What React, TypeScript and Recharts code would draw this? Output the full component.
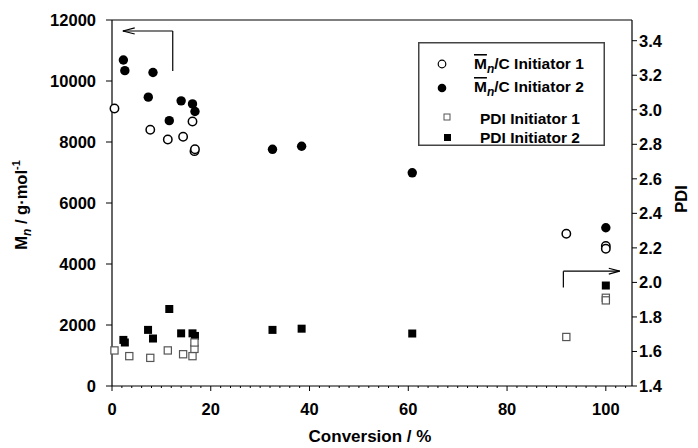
import React from 'react';
import { ScatterChart, Scatter, XAxis, YAxis, ReferenceLine, Legend } from 'recharts';

const FONT = '"Liberation Sans", Arial, Helvetica, sans-serif';

// Mn / C, initiator 1 (open circles)
const mn1Conversion = [0.5, 7.75, 11.3, 14.4, 16.3, 16.7, 16.8, 92, 100, 100];
const mn1Values = [9100, 8400, 8080, 8170, 8670, 7700, 7760, 4990, 4590, 4500];

// Mn / C, initiator 2 (filled circles)
const mn2Conversion = [2.3, 2.6, 8.3, 7.35, 14, 16.3, 16.8, 11.6, 32.5, 38.4, 60.8, 100];
const mn2Values = [10690, 10340, 10280, 9470, 9350, 9250, 9000, 8700, 7760, 7860, 6990, 5190];

// PDI, initiator 1 (open squares)
const pdi1Conversion = [0.5, 3.5, 7.75, 11.3, 14.4, 16.3, 16.7, 16.7, 92, 100, 100];
const pdi1Values = [1.606, 1.573, 1.563, 1.606, 1.584, 1.573, 1.615, 1.652, 1.684, 1.911, 1.896];

// PDI, initiator 2 (filled squares)
const pdi2Conversion = [2.3, 2.6, 7.3, 8.3, 11.6, 14, 16.3, 16.8, 32.5, 38.4, 60.8, 100];
const pdi2Values = [1.667, 1.652, 1.725, 1.675, 1.846, 1.705, 1.705, 1.69, 1.725, 1.732, 1.704, 1.982];

const xTicks = [0, 2, 4, 6, 8, 10, 12, 14, 16, 18, 20, 22, 24, 26, 28, 30, 32, 34, 36, 38, 40, 42, 44, 46, 48, 50,
  52, 54, 56, 58, 60, 62, 64, 66, 68, 70, 72, 74, 76, 78, 80, 82, 84, 86, 88, 90, 92, 94, 96, 98, 100, 102, 104];
const mnTicks = [0, 2000, 4000, 6000, 8000, 10000, 12000];
const pdiTicks = [1.4, 1.6, 1.8, 2.0, 2.2, 2.4, 2.6, 2.8, 3.0, 3.2, 3.4];

// arrow annotations, in data units
const mnArrow = [{ x: 12.3, y: 10330 }, { x: 12.3, y: 11640 }, { x: 2.2, y: 11640 }];
const mnArrowHead = [{ x: 4.6, y: 11740 }, { x: 2.2, y: 11640 }, { x: 4.6, y: 11540 }];
const pdiArrow = [{ x: 91.4, y: 1.971 }, { x: 91.4, y: 2.065 }, { x: 102.8, y: 2.065 }];
const pdiArrowHead = [{ x: 100.6, y: 2.082 }, { x: 102.8, y: 2.065 }, { x: 100.6, y: 2.048 }];

const toPoints = (xs: number[], ys: number[]) => xs.map((x, i) => ({ x, y: ys[i] }));

const OpenCircle = (p: any) => <circle cx={p.cx} cy={p.cy} r={4.2} fill="#fff" stroke="#000" strokeWidth={1.5} />;
const FilledCircle = (p: any) => <circle cx={p.cx} cy={p.cy} r={4.7} fill="#000" />;
const OpenSquare = (p: any) => (
  <rect x={p.cx - 3.6} y={p.cy - 3.6} width={7.2} height={7.2} fill="#fff" stroke="#555" strokeWidth={1.2} />
);
const FilledSquare = (p: any) => <rect x={p.cx - 4} y={p.cy - 4} width={8} height={8} fill="#000" />;

function XTick(props: any) {
  const { x, y, payload } = props;
  const major = payload.value % 20 === 0;
  return (
    <g>
      <line x1={x} x2={x} y1={y} y2={y + (major ? 5 : 2)} stroke="#000" strokeWidth={1} />
      {major && (
        <text x={x} y={y + 29} textAnchor="middle" fontFamily={FONT} fontWeight={700} fontSize={16.5} fill="#000">
          {payload.value}
        </text>
      )}
    </g>
  );
}

function MnLabel(props: any) {
  const { viewBox } = props;
  const cx = viewBox.x + 27;
  const cy = viewBox.y + viewBox.height / 2 + 2;
  return (
    <text transform={`rotate(-90 ${cx} ${cy})`} x={cx} y={cy} textAnchor="middle"
      fontFamily={FONT} fontWeight={700} fontSize={16.5} fill="#000">
      <tspan>M</tspan>
      <tspan fontStyle="italic" fontSize={12} dy={4}>n</tspan>
      <tspan dy={-4}> / g·mol</tspan>
      <tspan fontSize={11} dy={-7}>-1</tspan>
    </text>
  );
}

function PdiLabel(props: any) {
  const { viewBox } = props;
  const cx = viewBox.x + 55;
  const cy = viewBox.y + viewBox.height / 2 - 4;
  return (
    <text transform={`rotate(-90 ${cx} ${cy})`} x={cx} y={cy} textAnchor="middle"
      fontFamily={FONT} fontWeight={700} fontSize={16.5} fill="#000">
      PDI
    </text>
  );
}

function XLabel(props: any) {
  const { viewBox } = props;
  return (
    <text x={viewBox.x + viewBox.width / 2 - 2} y={viewBox.y + 56} textAnchor="middle"
      fontFamily={FONT} fontWeight={700} fontSize={17} fill="#000">
      Conversion / %
    </text>
  );
}

function LegendBox() {
  const t = { fontFamily: FONT, fontWeight: 700, fontSize: 15.5, fill: '#000' };
  return (
    <svg width={187} height={104} style={{ display: 'block' }}>
      <rect x={0.75} y={0.75} width={185.5} height={102.5} fill="#fff" stroke="#444" strokeWidth={1.5} />
      <circle cx={24} cy={22} r={3.8} fill="#fff" stroke="#000" strokeWidth={1.2} />
      <text x={56} y={27} {...t}>
        <tspan textDecoration="overline">M</tspan>
        <tspan fontStyle="italic" fontSize={12} dy={4}>n</tspan>
        <tspan dy={-4}>/C Initiator 1</tspan>
      </text>
      <circle cx={24} cy={46} r={4.3} fill="#000" />
      <text x={56} y={50} {...t}>
        <tspan textDecoration="overline">M</tspan>
        <tspan fontStyle="italic" fontSize={12} dy={4}>n</tspan>
        <tspan dy={-4}>/C Initiator 2</tspan>
      </text>
      <rect x={26} y={72} width={6} height={6} fill="#fff" stroke="#555" strokeWidth={1} />
      <text x={62} y={82} {...t}>PDI Initiator 1</text>
      <rect x={26} y={92} width={7} height={7} fill="#000" />
      <text x={62} y={101} {...t}>PDI Initiator 2</text>
    </svg>
  );
}

const axisTick = { fontFamily: FONT, fontWeight: 700, fontSize: 16.5, fill: '#000' };

export default function App() {
  return (
    <div style={{ position: 'absolute', left: 0, top: 0, width: 698, height: 448, background: '#fff' }}>
      <ScatterChart width={698} height={448} margin={{ top: 20, right: 0, bottom: 0, left: 0 }}>
        <XAxis type="number" dataKey="x" domain={[0, 105.3]} ticks={xTicks} interval={0}
          height={62} tickSize={0} tickMargin={0} tickLine={false} tick={<XTick />}
          axisLine={{ stroke: '#000', strokeWidth: 1.2 }} label={<XLabel />} />
        <YAxis yAxisId="mn" type="number" dataKey="y" domain={[0, 12000]} ticks={mnTicks} interval={0}
          width={112} tickSize={6} tickMargin={10} tick={axisTick}
          tickLine={{ stroke: '#000' }} axisLine={{ stroke: '#000', strokeWidth: 1.2 }} label={<MnLabel />} />
        <YAxis yAxisId="pdi" orientation="right" type="number" dataKey="y" domain={[1.4, 3.52]}
          ticks={pdiTicks} interval={0} allowDataOverflow width={66} tickSize={5} tickMargin={2}
          tick={axisTick} tickFormatter={(v: number) => v.toFixed(1)}
          tickLine={{ stroke: '#000' }} axisLine={{ stroke: '#000', strokeWidth: 1.2 }} label={<PdiLabel />} />
        <ReferenceLine yAxisId="mn" y={12000} stroke="#000" strokeWidth={1.2} />

        <Scatter name="PDI Initiator 2" yAxisId="pdi" data={toPoints(pdi2Conversion, pdi2Values)}
          shape={FilledSquare} isAnimationActive={false} />
        <Scatter name="PDI Initiator 1" yAxisId="pdi" data={toPoints(pdi1Conversion, pdi1Values)}
          shape={OpenSquare} isAnimationActive={false} />
        <Scatter name="Mn/C Initiator 1" yAxisId="mn" data={toPoints(mn1Conversion, mn1Values)}
          shape={OpenCircle} isAnimationActive={false} />
        <Scatter name="Mn/C Initiator 2" yAxisId="mn" data={toPoints(mn2Conversion, mn2Values)}
          shape={FilledCircle} isAnimationActive={false} />

        <ReferenceLine yAxisId="mn" segment={[mnArrow[0], mnArrow[1]]} stroke="#000" strokeWidth={1.2} />
        <ReferenceLine yAxisId="mn" segment={[mnArrow[1], mnArrow[2]]} stroke="#000" strokeWidth={1.2} />
        <ReferenceLine yAxisId="mn" segment={[mnArrowHead[0], mnArrowHead[1]]} stroke="#000" strokeWidth={1.2} />
        <ReferenceLine yAxisId="mn" segment={[mnArrowHead[1], mnArrowHead[2]]} stroke="#000" strokeWidth={1.2} />
        <ReferenceLine yAxisId="pdi" segment={[pdiArrow[0], pdiArrow[1]]} stroke="#000" strokeWidth={1.2} />
        <ReferenceLine yAxisId="pdi" segment={[pdiArrow[1], pdiArrow[2]]} stroke="#000" strokeWidth={1.2} />
        <ReferenceLine yAxisId="pdi" segment={[pdiArrowHead[0], pdiArrowHead[1]]} stroke="#000" strokeWidth={1.2} />
        <ReferenceLine yAxisId="pdi" segment={[pdiArrowHead[1], pdiArrowHead[2]]} stroke="#000" strokeWidth={1.2} />

        <Legend layout="vertical" align="center" verticalAlign="middle" content={<LegendBox />}
          wrapperStyle={{ left: 418, top: 42, width: 187, height: 104 }} />
      </ScatterChart>
    </div>
  );
}
